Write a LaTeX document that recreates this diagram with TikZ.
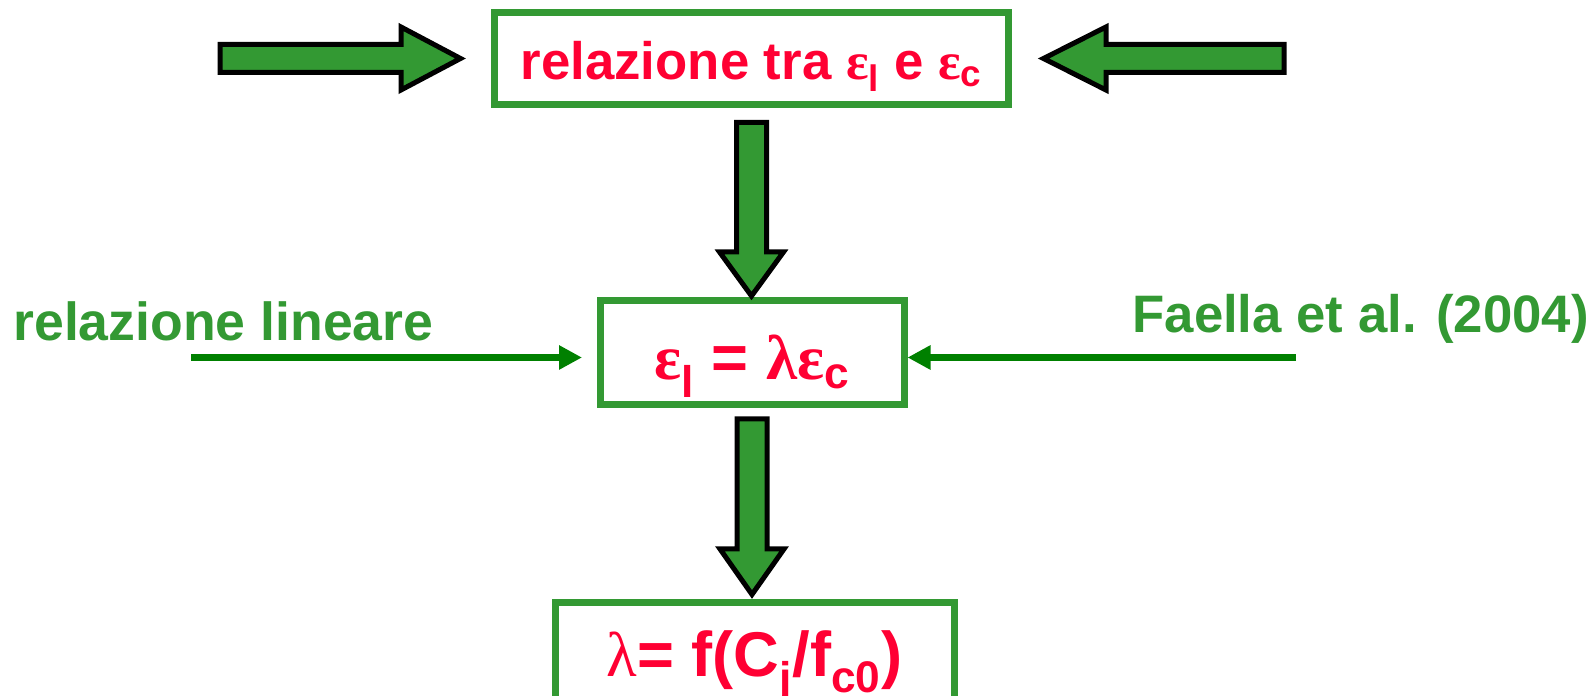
\documentclass[tikz,border=0pt]{standalone}
\usepackage{fontspec}
\setmainfont{Liberation Sans}
\newfontfamily\grk{Liberation Serif}
\usetikzlibrary{arrows.meta}
\definecolor{boxgreen}{RGB}{51,153,51}
\definecolor{linegreen}{RGB}{0,128,0}
\definecolor{txtred}{RGB}{255,0,51}

\begin{document}
\begin{tikzpicture}[
        box/.style={draw=boxgreen, line width=0.14cm, fill=white, text=txtred,
            inner xsep=0pt, inner ysep=0.1cm},
        fatarrow/.style={draw=black, fill=boxgreen, line width=0.1cm, line join=miter},
        thinarrow/.style={draw=linegreen, line width=0.15cm,
            -{Triangle[length=0.46cm,width=0.46cm]}},
        side/.style={text=boxgreen, font=\fontsize{30}{30}\selectfont\bfseries, inner sep=0pt}]
        \clip (0,0) rectangle (31.92,13.92);
        % Caselle
        \node[box, font=\fontsize{30}{30}\selectfont\bfseries, minimum width=10.28cm,
              text height=1.25cm, text depth=0.39cm] (rel) at (15.03,12.75)
              {relazione tra {\grk ε}\textsubscript{l} e {\grk ε}\textsubscript{c}};
        \node[box, font=\fontsize{36}{36}\selectfont\bfseries, minimum width=6.08cm,
              text height=1.48cm, text depth=0.4cm] (mid) at (15.04,6.86)
              {{\grk ε}\textsubscript{l} = {\grk λε}\textsubscript{c}};
        \node[box, font=\fontsize{36}{36}\selectfont\bfseries, minimum width=7.98cm,
              text height=1.38cm, text depth=1cm, anchor=north] (bot) at (15.09,1.94)
              {{\grk\mdseries λ}= f(C\textsubscript{j}/f\textsubscript{c0})};
        % Frecce grosse
        \draw[fatarrow] ([xshift=-0.61cm]rel.west) -- ++(-1.19,0.63) -- ++(0,-0.35)
              -- ++(-3.62,0) -- ++(0,-0.56) -- ++(3.62,0) -- ++(0,-0.35) -- cycle;
        \draw[fatarrow] ([xshift=0.63cm]rel.east) -- ++(1.25,0.63) -- ++(0,-0.35)
              -- ++(3.56,0) -- ++(0,-0.56) -- ++(-3.56,0) -- ++(0,-0.35) -- cycle;
        \draw[fatarrow] ([yshift=-0.29cm]rel.south) -- ++(0.3,0) -- ++(0,-2.59) -- ++(0.34,0)
              -- ++(-0.64,-0.88) -- ++(-0.64,0.88) -- ++(0.34,0) -- ++(0,2.59) -- cycle;
        \draw[fatarrow] ([yshift=-0.21cm]mid.south) -- ++(0.3,0) -- ++(0,-2.6) -- ++(0.34,0)
              -- ++(-0.64,-0.91) -- ++(-0.64,0.91) -- ++(0.34,0) -- ++(0,2.6) -- cycle;
        % Frecce sottili
        \node[side, font=\fontsize{30.5}{30}\selectfont\bfseries, anchor=base west] (lin)
              at (0.26,7.1) {relazione lineare};
        \node[side, anchor=base east] (fae) at (31.78,7.26) {Faella et al. (2004)};
        \coordinate (linstart) at (3.82,6.77);
        \coordinate (faestart) at (25.92,6.77);
        \draw[thinarrow, shorten >=0.29cm] (linstart) -- (linstart -| mid.west);
        \draw[thinarrow] (faestart) -- (faestart -| mid.east);
    \end{tikzpicture}
\end{document}
